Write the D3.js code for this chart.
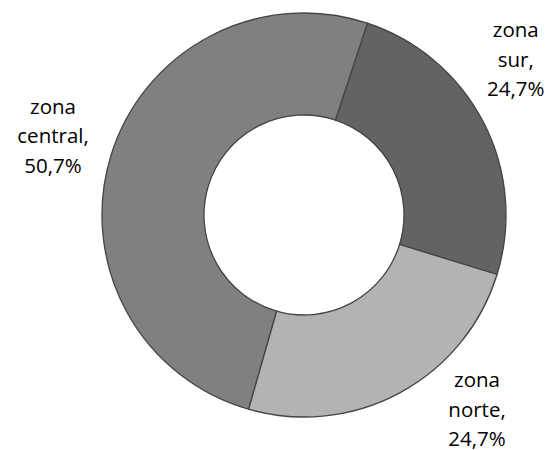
<!DOCTYPE html>
<html>
<head>
<meta charset="utf-8">
<script src="https://cdn.jsdelivr.net/npm/d3@7"></script>
<style>
  html, body { margin: 0; padding: 0; background: #fff; }
  svg { display: block; }
</style>
</head>
<body>
<svg id="chart" width="547" height="450"></svg>
<script>
// Data
const categories = ["zona sur", "zona norte", "zona central"];
const labelLines = [["zona", "sur,"], ["zona", "norte,"], ["zona", "central,"]];
const values = [24.7, 24.7, 50.7];
const percentLabels = ["24,7%", "24,7%", "50,7%"];
const colors = ["#636363", "#b3b3b3", "#808080"];

// Layout
const W = 547, H = 450;
const cx = 304, cy = 215;
const outerR = 202, innerR = 100;
const startDeg = 18.3;
// label placement: [angle offset from slice middle (deg), radius]
const labelPlace = [[-7.7, 258.5], [-12.2, 265.6], [-1.2, 261]];
const lineH = 29.5;

const svg = d3.select("#chart");
const g = svg.append("g").attr("transform", `translate(${cx},${cy})`);

const pie = d3.pie().sort(null).value(d => d)
  .startAngle(startDeg * Math.PI / 180)
  .endAngle(startDeg * Math.PI / 180 + 2 * Math.PI);
const arcs = pie(values);
const arc = d3.arc().innerRadius(innerR).outerRadius(outerR);

g.selectAll("path.slice").data(arcs).join("path")
  .attr("class", "slice")
  .attr("d", arc)
  .attr("fill", (d, i) => colors[i])
  .attr("stroke", "#444444")
  .attr("stroke-width", 1.3)
  .attr("stroke-linejoin", "round");

g.selectAll("text.lbl").data(arcs).join("text")
  .attr("class", "lbl")
  .attr("text-anchor", "middle")
  .attr("font-family", "'Open Sans', sans-serif")
  .attr("font-size", 20.5)
  .attr("fill", "#000")
  .each(function(d, i) {
    const mid = (d.startAngle + d.endAngle) / 2 + labelPlace[i][0] * Math.PI / 180;
    const r = labelPlace[i][1];
    const x = Math.sin(mid) * r;
    const y = -Math.cos(mid) * r;
    const lines = labelLines[i].concat([percentLabels[i]]);
    const t = d3.select(this);
    lines.forEach((ln, k) => {
      t.append("tspan")
        .attr("x", x)
        .attr("y", y + (k - 1) * lineH)
        .text(ln);
    });
  });
</script>
</body>
</html>
